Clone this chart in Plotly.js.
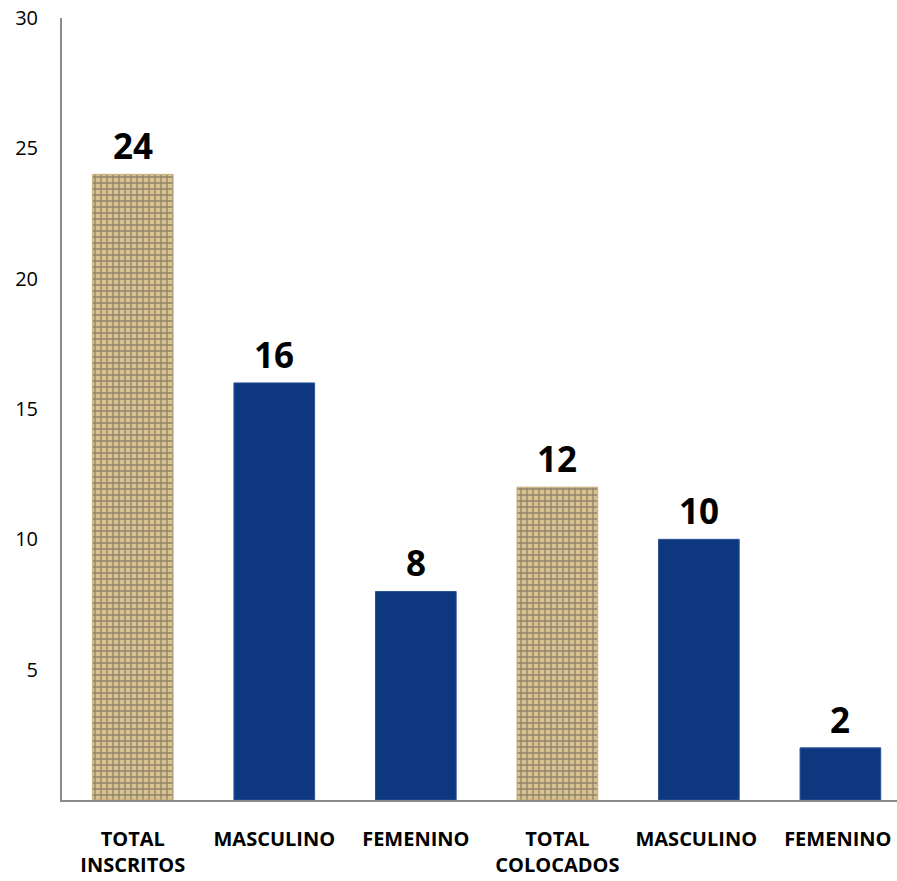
<!DOCTYPE html>
<html>
<head>
<meta charset="utf-8">
<script src="https://cdn.plot.ly/plotly-3.0.1.min.js"></script>
<style>html,body{margin:0;padding:0;background:#fff;}#chart{width:897px;height:881px;}</style>
</head>
<body>
<div id="chart"></div>
<script>
var categories = ["TOTAL<br>INSCRITOS", "MASCULINO", "FEMENINO", "TOTAL<br>COLOCADOS", "MASCULINO ", "FEMENINO "];
var values = [24, 16, 8, 12, 10, 2];
var isTotal = [true, false, false, true, false, false];
var yTicks = [5, 10, 15, 20, 25, 30];

var fillColors = isTotal.map(function(t){ return t ? "#d9c28f" : "#0d3880"; });
var patternShapes = isTotal.map(function(t){ return t ? "+" : ""; });
var lineColors = isTotal.map(function(t){ return t ? "#c8ad74" : "#2a5296"; });

var trace = {
  type: "bar",
  x: categories,
  y: values,
  width: 0.57,
  marker: {
    color: fillColors,
    line: {color: lineColors, width: 1},
    pattern: {shape: patternShapes, fgcolor: "#9a7c45", bgcolor: "#e6d4a6", size: 6, solidity: 0.4, fillmode: "overlay"}
  },
  hoverinfo: "none"
};

var annotations = values.map(function(v, i){
  return {x: categories[i], y: v, text: String(v), showarrow: false, yanchor: "bottom", yshift: 3,
          font: {family: "Open Sans, Liberation Sans, sans-serif", size: 35, color: "#000", weight: 700}};
});

var layout = {
  width: 897, height: 881,
  margin: {l: 62, r: 0, t: 18, b: 81},
  paper_bgcolor: "#fff", plot_bgcolor: "#fff",
  showlegend: false,
  bargap: 0.43,
  xaxis: {
    type: "category",
    range: [-0.5, 5.4],
    showline: true, linecolor: "#8c8c8c", linewidth: 2,
    showgrid: false, zeroline: false, ticks: "",
    ticklabelstandoff: 20,
    tickfont: {family: "Open Sans, Liberation Sans, sans-serif", size: 20, color: "#000", weight: 700}
  },
  yaxis: {
    range: [0, 30],
    tickvals: yTicks,
    showline: true, linecolor: "#8c8c8c", linewidth: 2,
    showgrid: false, zeroline: false, ticks: "",
    ticklabelstandoff: 18,
    tickfont: {family: "Open Sans, Liberation Sans, sans-serif", size: 20, color: "#000"}
  },
  annotations: annotations
};

Plotly.newPlot("chart", [trace], layout, {displayModeBar: false, staticPlot: true});
</script>
</body>
</html>
